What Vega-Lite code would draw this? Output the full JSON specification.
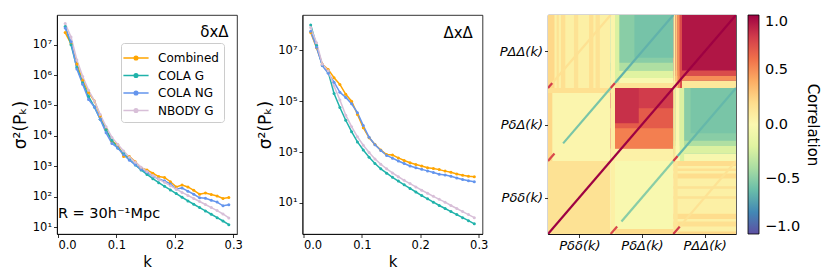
{
"$schema":"https://vega.github.io/schema/vega-lite/v6.json",
"padding":{"left":10,"top":14,"right":5,"bottom":5},
"spacing":65.5,
"bounds":"flush",
"resolve":{"scale":{"color":"independent"},"legend":{"color":"independent"}},
"datasets":{
"d1":[
{"s":"Combined","k":0.0125,"v":2.51e7},{"s":"Combined","k":0.0225,"v":1.07e7},{"s":"Combined","k":0.0325,"v":2.34e6},{"s":"Combined","k":0.0425,"v":6.61e5},{"s":"Combined","k":0.0525,"v":2.69e5},{"s":"Combined","k":0.0625,"v":1.41e5},{"s":"Combined","k":0.0725,"v":4.47e4},{"s":"Combined","k":0.0825,"v":1.62e4},{"s":"Combined","k":0.0925,"v":6607},{"s":"Combined","k":0.1025,"v":5129},{"s":"Combined","k":0.1125,"v":2089},{"s":"Combined","k":0.1225,"v":2089},{"s":"Combined","k":0.1325,"v":1413},{"s":"Combined","k":0.1425,"v":871},{"s":"Combined","k":0.1525,"v":759},{"s":"Combined","k":0.1625,"v":589},{"s":"Combined","k":0.1725,"v":457},{"s":"Combined","k":0.1825,"v":427},{"s":"Combined","k":0.1925,"v":309},{"s":"Combined","k":0.2025,"v":209},{"s":"Combined","k":0.2125,"v":240},{"s":"Combined","k":0.2225,"v":209},{"s":"Combined","k":0.2325,"v":162},{"s":"Combined","k":0.2425,"v":120},{"s":"Combined","k":0.2525,"v":132},{"s":"Combined","k":0.2625,"v":117},{"s":"Combined","k":0.2725,"v":105},{"s":"Combined","k":0.2825,"v":87},{"s":"Combined","k":0.2925,"v":93},
{"s":"COLA G","k":0.0125,"v":3.98e7},{"s":"COLA G","k":0.0225,"v":1.0e7},{"s":"COLA G","k":0.0325,"v":1.78e6},{"s":"COLA G","k":0.0425,"v":5.62e5},{"s":"COLA G","k":0.0525,"v":2.0e5},{"s":"COLA G","k":0.0625,"v":8.91e4},{"s":"COLA G","k":0.0725,"v":3.55e4},{"s":"COLA G","k":0.0825,"v":1.58e4},{"s":"COLA G","k":0.0925,"v":7079},{"s":"COLA G","k":0.1025,"v":3981},{"s":"COLA G","k":0.1125,"v":2630},{"s":"COLA G","k":0.1225,"v":1660},{"s":"COLA G","k":0.1325,"v":1096},{"s":"COLA G","k":0.1425,"v":759},{"s":"COLA G","k":0.1525,"v":537},{"s":"COLA G","k":0.1625,"v":389},{"s":"COLA G","k":0.1725,"v":288},{"s":"COLA G","k":0.1825,"v":219},{"s":"COLA G","k":0.1925,"v":166},{"s":"COLA G","k":0.2025,"v":126},{"s":"COLA G","k":0.2125,"v":95.5},{"s":"COLA G","k":0.2225,"v":72.4},{"s":"COLA G","k":0.2325,"v":56.2},{"s":"COLA G","k":0.2425,"v":43.7},{"s":"COLA G","k":0.2525,"v":33.9},{"s":"COLA G","k":0.2625,"v":26.3},{"s":"COLA G","k":0.2725,"v":20.4},{"s":"COLA G","k":0.2825,"v":15.8},{"s":"COLA G","k":0.2925,"v":12.0},
{"s":"COLA NG","k":0.0125,"v":3.55e7},{"s":"COLA NG","k":0.0225,"v":1.26e7},{"s":"COLA NG","k":0.0325,"v":1.58e6},{"s":"COLA NG","k":0.0425,"v":5.01e5},{"s":"COLA NG","k":0.0525,"v":1.58e5},{"s":"COLA NG","k":0.0625,"v":8.91e4},{"s":"COLA NG","k":0.0725,"v":3.55e4},{"s":"COLA NG","k":0.0825,"v":1.26e4},{"s":"COLA NG","k":0.0925,"v":5623},{"s":"COLA NG","k":0.1025,"v":3981},{"s":"COLA NG","k":0.1125,"v":2399},{"s":"COLA NG","k":0.1225,"v":1585},{"s":"COLA NG","k":0.1325,"v":1122},{"s":"COLA NG","k":0.1425,"v":794},{"s":"COLA NG","k":0.1525,"v":631},{"s":"COLA NG","k":0.1625,"v":479},{"s":"COLA NG","k":0.1725,"v":380},{"s":"COLA NG","k":0.1825,"v":331},{"s":"COLA NG","k":0.1925,"v":263},{"s":"COLA NG","k":0.2025,"v":178},{"s":"COLA NG","k":0.2125,"v":191},{"s":"COLA NG","k":0.2225,"v":151},{"s":"COLA NG","k":0.2325,"v":120},{"s":"COLA NG","k":0.2425,"v":91.2},{"s":"COLA NG","k":0.2525,"v":89.1},{"s":"COLA NG","k":0.2625,"v":75.9},{"s":"COLA NG","k":0.2725,"v":66.1},{"s":"COLA NG","k":0.2825,"v":50.1},{"s":"COLA NG","k":0.2925,"v":53.7},
{"s":"NBODY G","k":0.0125,"v":5.01e7},{"s":"NBODY G","k":0.0225,"v":1.78e7},{"s":"NBODY G","k":0.0325,"v":3.16e6},{"s":"NBODY G","k":0.0425,"v":8.91e5},{"s":"NBODY G","k":0.0525,"v":3.16e5},{"s":"NBODY G","k":0.0625,"v":1.41e5},{"s":"NBODY G","k":0.0725,"v":5.01e4},{"s":"NBODY G","k":0.0825,"v":2.0e4},{"s":"NBODY G","k":0.0925,"v":8913},{"s":"NBODY G","k":0.1025,"v":5248},{"s":"NBODY G","k":0.1125,"v":3162},{"s":"NBODY G","k":0.1225,"v":1995},{"s":"NBODY G","k":0.1325,"v":1349},{"s":"NBODY G","k":0.1425,"v":933},{"s":"NBODY G","k":0.1525,"v":676},{"s":"NBODY G","k":0.1625,"v":501},{"s":"NBODY G","k":0.1725,"v":380},{"s":"NBODY G","k":0.1825,"v":295},{"s":"NBODY G","k":0.1925,"v":229},{"s":"NBODY G","k":0.2025,"v":178},{"s":"NBODY G","k":0.2125,"v":138},{"s":"NBODY G","k":0.2225,"v":110},{"s":"NBODY G","k":0.2325,"v":87.1},{"s":"NBODY G","k":0.2425,"v":69.2},{"s":"NBODY G","k":0.2525,"v":55.0},{"s":"NBODY G","k":0.2625,"v":43.7},{"s":"NBODY G","k":0.2725,"v":34.7},{"s":"NBODY G","k":0.2825,"v":26.9},{"s":"NBODY G","k":0.2925,"v":20.0}
],
"d2":[
{"s":"Combined","k":0.0125,"v":5.01e7},{"s":"Combined","k":0.0225,"v":1.26e7},{"s":"Combined","k":0.0325,"v":2.82e6},{"s":"Combined","k":0.0425,"v":1.78e6},{"s":"Combined","k":0.0525,"v":8.32e5},{"s":"Combined","k":0.0625,"v":4.57e5},{"s":"Combined","k":0.0725,"v":1.86e5},{"s":"Combined","k":0.0825,"v":1.0e5},{"s":"Combined","k":0.0925,"v":3.02e4},{"s":"Combined","k":0.1025,"v":9120},{"s":"Combined","k":0.1125,"v":3631},{"s":"Combined","k":0.1225,"v":1995},{"s":"Combined","k":0.1325,"v":1202},{"s":"Combined","k":0.1425,"v":794},{"s":"Combined","k":0.1525,"v":759},{"s":"Combined","k":0.1625,"v":589},{"s":"Combined","k":0.1725,"v":468},{"s":"Combined","k":0.1825,"v":380},{"s":"Combined","k":0.1925,"v":324},{"s":"Combined","k":0.2025,"v":282},{"s":"Combined","k":0.2125,"v":240},{"s":"Combined","k":0.2225,"v":224},{"s":"Combined","k":0.2325,"v":204},{"s":"Combined","k":0.2425,"v":178},{"s":"Combined","k":0.2525,"v":162},{"s":"Combined","k":0.2625,"v":138},{"s":"Combined","k":0.2725,"v":123},{"s":"Combined","k":0.2825,"v":112},{"s":"Combined","k":0.2925,"v":107},
{"s":"COLA G","k":0.0125,"v":1.0e8},{"s":"COLA G","k":0.0225,"v":1.58e7},{"s":"COLA G","k":0.0325,"v":2.51e6},{"s":"COLA G","k":0.0425,"v":1.41e6},{"s":"COLA G","k":0.0525,"v":2.0e5},{"s":"COLA G","k":0.0625,"v":5.62e4},{"s":"COLA G","k":0.0725,"v":1.78e4},{"s":"COLA G","k":0.0825,"v":6310},{"s":"COLA G","k":0.0925,"v":2512},{"s":"COLA G","k":0.1025,"v":1202},{"s":"COLA G","k":0.1125,"v":631},{"s":"COLA G","k":0.1225,"v":355},{"s":"COLA G","k":0.1325,"v":219},{"s":"COLA G","k":0.1425,"v":148},{"s":"COLA G","k":0.1525,"v":102},{"s":"COLA G","k":0.1625,"v":72.4},{"s":"COLA G","k":0.1725,"v":51.3},{"s":"COLA G","k":0.1825,"v":37.2},{"s":"COLA G","k":0.1925,"v":26.9},{"s":"COLA G","k":0.2025,"v":19.5},{"s":"COLA G","k":0.2125,"v":14.5},{"s":"COLA G","k":0.2225,"v":10.7},{"s":"COLA G","k":0.2325,"v":7.94},{"s":"COLA G","k":0.2425,"v":6.03},{"s":"COLA G","k":0.2525,"v":4.57},{"s":"COLA G","k":0.2625,"v":3.47},{"s":"COLA G","k":0.2725,"v":2.63},{"s":"COLA G","k":0.2825,"v":2.0},{"s":"COLA G","k":0.2925,"v":1.51},
{"s":"COLA NG","k":0.0125,"v":5.62e7},{"s":"COLA NG","k":0.0225,"v":1.32e7},{"s":"COLA NG","k":0.0325,"v":2.51e6},{"s":"COLA NG","k":0.0425,"v":1.26e6},{"s":"COLA NG","k":0.0525,"v":5.62e5},{"s":"COLA NG","k":0.0625,"v":2.24e5},{"s":"COLA NG","k":0.0725,"v":1.41e5},{"s":"COLA NG","k":0.0825,"v":7.94e4},{"s":"COLA NG","k":0.0925,"v":3.55e4},{"s":"COLA NG","k":0.1025,"v":1.1e4},{"s":"COLA NG","k":0.1125,"v":3800},{"s":"COLA NG","k":0.1225,"v":1950},{"s":"COLA NG","k":0.1325,"v":1150},{"s":"COLA NG","k":0.1425,"v":740},{"s":"COLA NG","k":0.1525,"v":575},{"s":"COLA NG","k":0.1625,"v":447},{"s":"COLA NG","k":0.1725,"v":355},{"s":"COLA NG","k":0.1825,"v":282},{"s":"COLA NG","k":0.1925,"v":240},{"s":"COLA NG","k":0.2025,"v":209},{"s":"COLA NG","k":0.2125,"v":182},{"s":"COLA NG","k":0.2225,"v":158},{"s":"COLA NG","k":0.2325,"v":135},{"s":"COLA NG","k":0.2425,"v":126},{"s":"COLA NG","k":0.2525,"v":112},{"s":"COLA NG","k":0.2625,"v":95.5},{"s":"COLA NG","k":0.2725,"v":83.2},{"s":"COLA NG","k":0.2825,"v":74.1},{"s":"COLA NG","k":0.2925,"v":67.6},
{"s":"NBODY G","k":0.0125,"v":7.94e7},{"s":"NBODY G","k":0.0225,"v":2.0e7},{"s":"NBODY G","k":0.0325,"v":2.82e6},{"s":"NBODY G","k":0.0425,"v":1.58e6},{"s":"NBODY G","k":0.0525,"v":3.98e5},{"s":"NBODY G","k":0.0625,"v":1.12e5},{"s":"NBODY G","k":0.0725,"v":2.82e4},{"s":"NBODY G","k":0.0825,"v":1.0e4},{"s":"NBODY G","k":0.0925,"v":3981},{"s":"NBODY G","k":0.1025,"v":1862},{"s":"NBODY G","k":0.1125,"v":955},{"s":"NBODY G","k":0.1225,"v":537},{"s":"NBODY G","k":0.1325,"v":331},{"s":"NBODY G","k":0.1425,"v":219},{"s":"NBODY G","k":0.1525,"v":151},{"s":"NBODY G","k":0.1625,"v":107},{"s":"NBODY G","k":0.1725,"v":77.6},{"s":"NBODY G","k":0.1825,"v":57.5},{"s":"NBODY G","k":0.1925,"v":42.7},{"s":"NBODY G","k":0.2025,"v":31.6},{"s":"NBODY G","k":0.2125,"v":24.0},{"s":"NBODY G","k":0.2225,"v":18.2},{"s":"NBODY G","k":0.2325,"v":13.8},{"s":"NBODY G","k":0.2425,"v":10.7},{"s":"NBODY G","k":0.2525,"v":7.94},{"s":"NBODY G","k":0.2625,"v":6.03},{"s":"NBODY G","k":0.2725,"v":4.57},{"s":"NBODY G","k":0.2825,"v":3.47},{"s":"NBODY G","k":0.2925,"v":2.63}
],
"hm":[
{"x0":0,"x1":29,"y0":0,"y1":29,"v":0.16},
{"x0":29,"x1":58,"y0":0,"y1":29,"v":-0.02},
{"x0":58,"x1":87,"y0":0,"y1":29,"v":0.06},
{"x0":0,"x1":29,"y0":29,"y1":58,"v":0.02},
{"x0":29,"x1":58,"y0":29,"y1":58,"v":0.68},
{"x0":58,"x1":87,"y0":29,"y1":58,"v":-0.5},
{"x0":0,"x1":29,"y0":58,"y1":87,"v":0.06},
{"x0":29,"x1":58,"y0":58,"y1":87,"v":-0.5},
{"x0":58,"x1":87,"y0":58,"y1":87,"v":0.93},
{"x0":29,"x1":58,"y0":29,"y1":34,"v":0.05},
{"x0":29,"x1":58,"y0":34,"y1":42,"v":0.55},
{"x0":29,"x1":58,"y0":50,"y1":58,"v":0.8},
{"x0":31,"x1":42,"y0":44,"y1":58,"v":0.84},
{"x0":29,"x1":31,"y0":29,"y1":58,"v":0.08},
{"x0":58,"x1":87,"y0":58,"y1":61,"v":0.12},
{"x0":58,"x1":87,"y0":61,"y1":63,"v":0.5},
{"x0":58,"x1":87,"y0":63,"y1":65,"v":0.74},
{"x0":58,"x1":59,"y0":58,"y1":87,"v":0.08},
{"x0":59,"x1":60,"y0":58,"y1":87,"v":0.28},
{"x0":60,"x1":61,"y0":58,"y1":87,"v":0.5},
{"x0":61,"x1":62,"y0":58,"y1":87,"v":0.74},
{"x0":29,"x1":58,"y0":58,"y1":60,"v":0.15},
{"x0":29,"x1":58,"y0":60,"y1":62,"v":-0.02},
{"x0":29,"x1":58,"y0":62,"y1":65,"v":-0.2},
{"x0":29,"x1":58,"y0":65,"y1":68,"v":-0.38},
{"x0":40,"x1":58,"y0":70,"y1":87,"v":-0.56},
{"x0":29,"x1":31,"y0":58,"y1":87,"v":0.03},
{"x0":31,"x1":33,"y0":60,"y1":87,"v":-0.22},
{"x0":58,"x1":87,"y0":29,"y1":32,"v":-0.03},
{"x0":58,"x1":87,"y0":32,"y1":35,"v":-0.22},
{"x0":58,"x1":87,"y0":35,"y1":37,"v":-0.38},
{"x0":66,"x1":87,"y0":40,"y1":58,"v":-0.55},
{"x0":58,"x1":59,"y0":29,"y1":58,"v":0.15},
{"x0":59,"x1":61,"y0":29,"y1":58,"v":0.0},
{"x0":61,"x1":63,"y0":29,"y1":58,"v":-0.22},
{"x0":58,"x1":87,"y0":0,"y1":1,"v":0.22},
{"x0":58,"x1":87,"y0":3,"y1":5,"v":0.18},
{"x0":58,"x1":87,"y0":6,"y1":8,"v":0.2},
{"x0":58,"x1":87,"y0":14,"y1":15,"v":0.16},
{"x0":58,"x1":87,"y0":18,"y1":19,"v":0.16},
{"x0":58,"x1":87,"y0":22,"y1":24,"v":0.2},
{"x0":58,"x1":87,"y0":25,"y1":26,"v":0.18},
{"x0":58,"x1":87,"y0":27,"y1":29,"v":0.2},
{"x0":58,"x1":60,"y0":0,"y1":29,"v":0.14},
{"x0":0,"x1":3,"y0":58,"y1":87,"v":0.22},
{"x0":4,"x1":5,"y0":58,"y1":87,"v":0.16},
{"x0":6,"x1":8,"y0":58,"y1":87,"v":0.18},
{"x0":12,"x1":14,"y0":58,"y1":87,"v":0.16},
{"x0":19,"x1":21,"y0":58,"y1":87,"v":0.18},
{"x0":22,"x1":24,"y0":58,"y1":87,"v":0.16},
{"x0":0,"x1":2,"y0":29,"y1":58,"v":0.22},
{"x0":0,"x1":29,"y0":56,"y1":58,"v":0.18},
{"x0":29,"x1":58,"y0":0,"y1":2,"v":0.2},
{"x0":29,"x1":31,"y0":0,"y1":29,"v":0.06}
],
"dg":[
{"id":"m","x":0,"y":0,"v":1},{"id":"m","x":87,"y":87,"v":1},
{"id":"abr","x":0,"y":29,"v":0.75},{"id":"abr","x":3,"y":32,"v":0.75},
{"id":"abt","x":7,"y":36,"v":-0.55},{"id":"abt","x":29,"y":58,"v":-0.55},
{"id":"bar","x":29,"y":0,"v":0.75},{"id":"bar","x":32,"y":3,"v":0.75},
{"id":"bat","x":34,"y":5,"v":-0.5},{"id":"bat","x":58,"y":29,"v":-0.5},
{"id":"acr","x":0,"y":58,"v":0.8},{"id":"acr","x":2,"y":60,"v":0.8},
{"id":"aco","x":2,"y":60,"v":0.17},{"id":"aco","x":29,"y":87,"v":0.17},
{"id":"car","x":58,"y":0,"v":0.8},{"id":"car","x":61,"y":3,"v":0.8},
{"id":"cao","x":61,"y":3,"v":0.16},{"id":"cao","x":87,"y":29,"v":0.16},
{"id":"bcr","x":29,"y":58,"v":0.8},{"id":"bcr","x":31,"y":60,"v":0.8},
{"id":"bct","x":31,"y":60,"v":-0.64},{"id":"bct","x":58,"y":87,"v":-0.64},
{"id":"cbr","x":58,"y":29,"v":0.8},{"id":"cbr","x":60,"y":31,"v":0.8},
{"id":"cbt","x":60,"y":31,"v":-0.62},{"id":"cbt","x":87,"y":58,"v":-0.62}
]
},
"hconcat":[
{"width":180,"height":219,
"layer":[
{"data":{"name":"d1"},"mark":{"type":"line","strokeWidth":1.5,"point":{"filled":true,"size":9}},
"encoding":{
"x":{"field":"k","type":"quantitative","scale":{"domain":[-0.0015,0.3065],"nice":false,"zero":false},"axis":{"values":[0,0.1,0.2,0.3],"format":".1f","title":"k"}},
"y":{"field":"v","type":"quantitative","scale":{"type":"log","domain":[5.9,9.5e7],"nice":false},"axis":{"values":[10,100,1000,10000,100000,1000000,10000000],"labelExpr":"'10' + ['⁰','¹','²','³','⁴','⁵','⁶','⁷','⁸'][round(log(datum.value)/LN10)]","title":"σ²(Pₖ)","titleFontSize":17}},
"color":{"field":"s","type":"nominal","scale":{"domain":["Combined","COLA G","COLA NG","NBODY G"],"range":["#FFA500","#20B2AA","#6495ED","#D8BFD8"]},
"legend":{"title":null,"orient":"none","legendX":64,"legendY":28,"direction":"vertical","fillColor":"rgba(255,255,255,0.8)","strokeColor":"#cccccc","cornerRadius":3,"padding":5,"labelFontSize":12,"symbolType":"M-1.4,0H1.4M0.2,0A0.2,0.2,0,1,1,-0.2,0A0.2,0.2,0,1,1,0.2,0","symbolSize":324,"symbolStrokeWidth":1.5,"rowPadding":1.5,"labelOffset":12}}}},
{"data":{"values":[{"k":0.292,"v":2.6e7,"t":"δxΔ"}]},"mark":{"type":"text","align":"right","baseline":"middle","fontSize":15},
"encoding":{"x":{"field":"k","type":"quantitative"},"y":{"field":"v","type":"quantitative"},"text":{"field":"t"}}},
{"data":{"values":[{"k":0.0,"v":27,"t":"R = 30h⁻¹Mpc"}]},"mark":{"type":"text","align":"left","baseline":"middle","fontSize":14.5},
"encoding":{"x":{"field":"k","type":"quantitative"},"y":{"field":"v","type":"quantitative"},"text":{"field":"t"}}}
]},
{"width":180,"height":219,
"layer":[
{"data":{"name":"d2"},"mark":{"type":"line","strokeWidth":1.5,"point":{"filled":true,"size":9}},
"encoding":{
"x":{"field":"k","type":"quantitative","scale":{"domain":[-0.0015,0.3065],"nice":false,"zero":false},"axis":{"values":[0,0.1,0.2,0.3],"format":".1f","title":"k"}},
"y":{"field":"v","type":"quantitative","scale":{"type":"log","domain":[0.6,2.45e8],"nice":false},"axis":{"values":[10,1000,100000,10000000],"labelExpr":"'10' + ['⁰','¹','²','³','⁴','⁵','⁶','⁷','⁸'][round(log(datum.value)/LN10)]","title":"σ²(Pₖ)","titleFontSize":17}},
"color":{"field":"s","type":"nominal","scale":{"domain":["Combined","COLA G","COLA NG","NBODY G"],"range":["#FFA500","#20B2AA","#6495ED","#D8BFD8"]},"legend":null}}},
{"data":{"values":[{"k":0.29,"v":4.9e7,"t":"ΔxΔ"}]},"mark":{"type":"text","align":"right","baseline":"middle","fontSize":15},
"encoding":{"x":{"field":"k","type":"quantitative"},"y":{"field":"v","type":"quantitative"},"text":{"field":"t"}}}
]},
{"width":188,"height":219,
"layer":[
{"data":{"name":"hm"},"mark":{"type":"rect"},
"encoding":{
"x":{"field":"x0","type":"quantitative","scale":{"domain":[0,87],"nice":false,"zero":false},"axis":{"values":[14.5,43.5,72.5],"labelExpr":"datum.value < 20 ? 'Pδδ(k)' : datum.value < 50 ? 'PδΔ(k)' : 'PΔΔ(k)'","title":null,"labelFontSize":13,"labelFontStyle":"italic"}},
"x2":{"field":"x1"},
"y":{"field":"y0","type":"quantitative","scale":{"domain":[0,87],"nice":false,"zero":false},"axis":{"values":[14.5,43.5,72.5],"labelExpr":"datum.value < 20 ? 'Pδδ(k)' : datum.value < 50 ? 'PδΔ(k)' : 'PΔΔ(k)'","title":null,"labelFontSize":13,"labelFontStyle":"italic"}},
"y2":{"field":"y1"},
"color":{"field":"v","type":"quantitative","scale":{"type":"linear","scheme":"spectral","reverse":true,"domain":[-1,1]},
"legend":{"type":"gradient","title":"Correlation","orient":"right","offset":11.6,"direction":"vertical","gradientLength":219,"gradientThickness":11,"tickCount":4,"format":".1f","labelFontSize":14.5,"labelBaseline":"middle","titleFontSize":15,"titleFontWeight":"normal","titleOrient":"right","titleAngle":270,"titleAnchor":"middle","labelOffset":6,"gradientStrokeColor":"#000","gradientStrokeWidth":0.8}}}},
{"data":{"name":"dg"},"mark":{"type":"line","strokeWidth":2.2,"strokeCap":"butt","clip":true},
"encoding":{"x":{"field":"x","type":"quantitative"},"y":{"field":"y","type":"quantitative"},"detail":{"field":"id"},"stroke":{"field":"v","type":"quantitative","scale":{"type":"linear","scheme":"spectral","reverse":true,"domain":[-1,1]},"legend":null}}}
]}
],
"config":{"font":"DejaVu Sans","view":{"stroke":"#000","strokeWidth":0.8},
"axis":{"grid":false,"domainColor":"#000","tickColor":"#000","labelColor":"#000","titleColor":"#000","tickSize":3.5,"domainWidth":0.8,"tickWidth":0.8,"labelFontSize":11.5,"titleFontSize":15,"titleFontWeight":"normal","labelPadding":2,"titlePadding":3},
"legend":{"labelColor":"#000","titleColor":"#000"}}
}
